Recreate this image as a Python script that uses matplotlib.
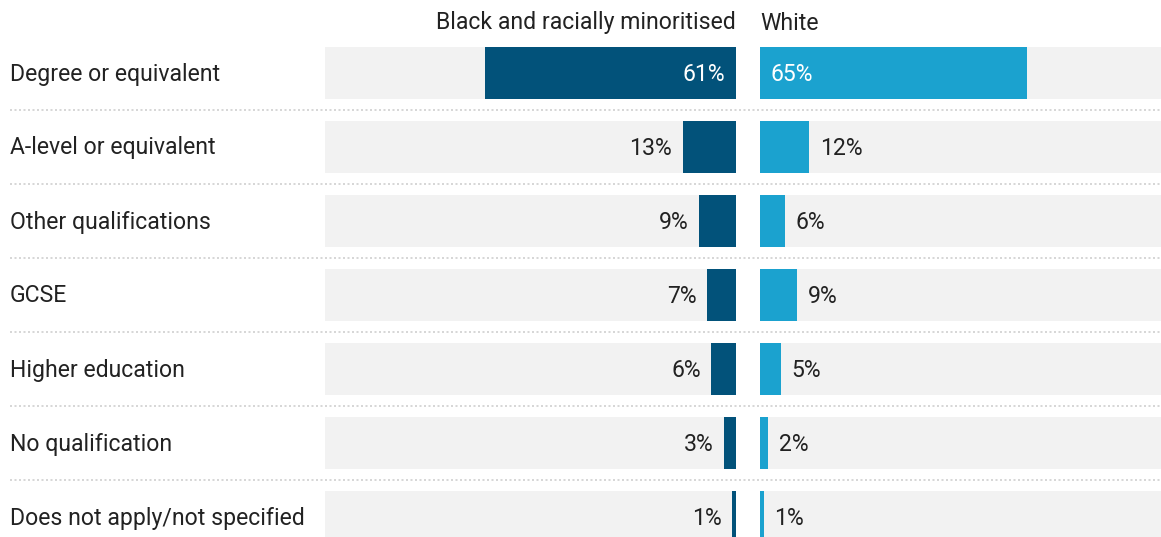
import matplotlib.pyplot as plt
from matplotlib.lines import Line2D

plt.rcParams['font.family'] = ['Roboto', 'DejaVu Sans']

categories = ['Degree or equivalent', 'A-level or equivalent', 'Other qualifications',
              'GCSE', 'Higher education', 'No qualification',
              'Does not apply/not specified']
bme = [61, 13, 9, 7, 6, 3, 1]
white = [65, 12, 6, 9, 5, 2, 1]
series_names = ['Black and racially minoritised', 'White']

dark = '#02527a'
light = '#1ba2cf'
bg = '#f2f2f2'
txt = '#222222'
fs = 16.6

W, H = 1161, 537
fig = plt.figure(figsize=(W / 100, H / 100), dpi=100)

# row geometry in pixels
row0, step, bar_h = 73, 74, 52 / 74
ylim = ((H - row0) / step, -row0 / step)
px = 411 / 100  # pixels per percent

axl = fig.add_axes([325 / W, 0, 411 / W, 1])
axr = fig.add_axes([760 / W, 0, 401 / W, 1])
axl.set_xlim(100, 0)
axr.set_xlim(0, 401 / px)

ys = list(range(len(categories)))
for ax, vals, col, side in [(axl, bme, dark, -1), (axr, white, light, 1)]:
    ax.barh(ys, [100] * len(ys), height=bar_h, color=bg, zorder=1)
    ax.barh(ys, vals, height=bar_h, color=col, zorder=2)
    ax.set_ylim(*ylim)
    ax.axis('off')
    ha = 'right' if side < 0 else 'left'
    for y, v in zip(ys, vals):
        inside = v > 30
        # inside labels sit at the inner (zero) edge, outside ones past the bar end
        anchor = (0, y) if inside else (v, y)
        ax.annotate(f'{v}%', anchor, xytext=(side * 7.5, -1),
                    textcoords='offset points', ha=ha, va='center',
                    fontsize=fs, color='white' if inside else txt)

for y, label in zip(ys, categories):
    fig.text(10 / W, 1 - (row0 + 1 + step * y) / H, label, ha='left',
             va='center', fontsize=fs, color=txt)

fig.text(736 / W, 1 - 23 / H, series_names[0], ha='right', va='center',
         fontsize=fs, color=txt)
fig.text(760 / W, 1 - 23 / H, series_names[1], ha='left', va='center',
         fontsize=fs, color=txt)

for i in range(len(categories) - 1):
    yp = 1 - (row0 + step * (i + 0.5)) / H
    fig.add_artist(Line2D([10 / W, 1], [yp, yp], color='#cfcfcf', lw=1.2,
                          linestyle=(0, (1.2, 1.5)), transform=fig.transFigure))

fig.savefig('out.png', dpi=100, facecolor='white')
